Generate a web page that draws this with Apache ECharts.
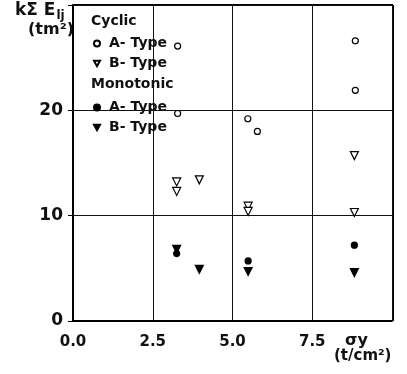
<!DOCTYPE html>
<html>
<head>
<meta charset="utf-8">
<script src="https://cdn.jsdelivr.net/npm/echarts@6/dist/echarts.min.js"></script>
<style>
html, body { margin: 0; padding: 0; background: #fff; }
#chart { width: 407px; height: 374px; }
</style>
</head>
<body>
<div id="chart"></div>
<script>
// points: [sigma_y, k*sum(E_lj)]
var cyclicA = [[3.28, 26.1], [3.28, 19.7], [5.48, 19.2], [5.78, 18.0], [8.85, 26.6], [8.85, 21.9]];
var cyclicB = [[3.25, 13.2], [3.25, 12.3], [3.96, 13.4], [5.49, 10.9], [5.49, 10.4], [8.82, 15.7], [8.82, 10.3]];
var monoA = [[3.25, 6.4], [5.49, 5.7], [8.82, 7.2]];
var monoB = [[3.25, 6.8], [3.96, 4.9], [5.49, 4.7], [8.82, 4.6]];
var xTicks = ['0.0', '2.5', '5.0', '7.5'];
var yTicks = ['0', '10', '20'];

var tri = 'path://M0,0 L10,0 L5,9 Z';
var font = 'DejaVu Sans';

var chart = echarts.init(document.getElementById('chart'));

function mk(name, data, symbol, filled, size) {
	return {
		name: name,
		type: 'scatter',
		data: data,
		symbol: symbol,
		symbolSize: size,
		itemStyle: {
			color: filled ? '#000' : '#fff',
			borderColor: '#000',
			borderWidth: 1.2,
			opacity: 1
		},
		emphasis: { disabled: true }
	};
}

var legendNames = {
	'Cyclic A': 'A- Type', 'Cyclic B': 'B- Type',
	'Mono A': 'A- Type', 'Mono B': 'B- Type'
};
var legendBase = {
	orient: 'vertical',
	left: 93,
	itemWidth: 6,
	itemHeight: 6,
	itemGap: 3,
	padding: 0,
	formatter: function(n) { return legendNames[n]; },
	textStyle: { fontFamily: font, fontSize: 14, fontWeight: 'bold', color: '#111', lineHeight: 17, padding: [0, 0, 0, 4] }
};

var option = {
	animation: false,
	grid: { left: 73, right: 15, top: 5, bottom: 53 },
	xAxis: {
		type: 'value',
		min: 0, max: 10, interval: 2.5,
		axisLine: { show: true, onZero: false, lineStyle: { color: '#000', width: 2 } },
		axisTick: { show: false },
		splitLine: { show: true, lineStyle: { color: '#111', width: 1 } },
		axisLabel: {
			margin: 14,
			fontFamily: font, fontSize: 15, fontWeight: 'bold', color: '#111',
			formatter: function(v, i) { return xTicks[i] || ''; }
		}
	},
	yAxis: {
		type: 'value',
		min: 0, max: 30, interval: 10,
		axisLine: { show: true, onZero: false, lineStyle: { color: '#000', width: 2 } },
		axisTick: { show: true, length: 5, lineStyle: { color: '#000', width: 1 } },
		splitLine: { show: true, lineStyle: { color: '#111', width: 1 } },
		axisLabel: {
			margin: 10,
			fontFamily: font, fontSize: 17, fontWeight: 'bold', color: '#111',
			formatter: function(v, i) { return yTicks[i] || ''; }
		}
	},
	legend: [
		Object.assign({ top: 35, data: ['Cyclic A', 'Cyclic B'] }, legendBase),
		Object.assign({ top: 99, data: ['Mono A', 'Mono B'] }, legendBase)
	],
	graphic: [
		{ type: 'rect', left: 392, top: 5, shape: { width: 2, height: 316 }, style: { fill: '#000' } },
		{ type: 'rect', left: 73, top: 4, shape: { width: 320, height: 2 }, style: { fill: '#000' } },
		{ type: 'text', left: 91, top: 14, style: { text: 'Cyclic', font: 'bold 14px DejaVu Sans', fill: '#111' } },
		{ type: 'text', left: 91, top: 77, style: { text: 'Monotonic', font: 'bold 14px DejaVu Sans', fill: '#111' } },
		{
			type: 'text', left: 15, top: 2,
			style: {
				text: 'kΣ E{s|lj}',
				font: 'bold 17px DejaVu Sans', fill: '#111',
				rich: { s: { font: 'bold 12px DejaVu Sans', fill: '#111', padding: [10, 0, 0, 1] } }
			}
		},
		{ type: 'text', left: 28, top: 22, style: { text: '(tm²)', font: 'bold 16px DejaVu Sans', fill: '#111' } },
		{ type: 'text', left: 345, top: 333, style: { text: 'σy', font: 'bold 16px DejaVu Sans', fill: '#111' } },
		{ type: 'text', left: 334, top: 349, style: { text: '(t/cm²)', font: 'bold 15px DejaVu Sans', fill: '#111' } }
	],
	series: [
		mk('Cyclic A', cyclicA, 'circle', false, 6),
		mk('Cyclic B', cyclicB, tri, false, 8),
		mk('Mono A', monoA, 'circle', true, 6),
		mk('Mono B', monoB, tri, true, 8)
	]
};

chart.setOption(option);
</script>
</body>
</html>
